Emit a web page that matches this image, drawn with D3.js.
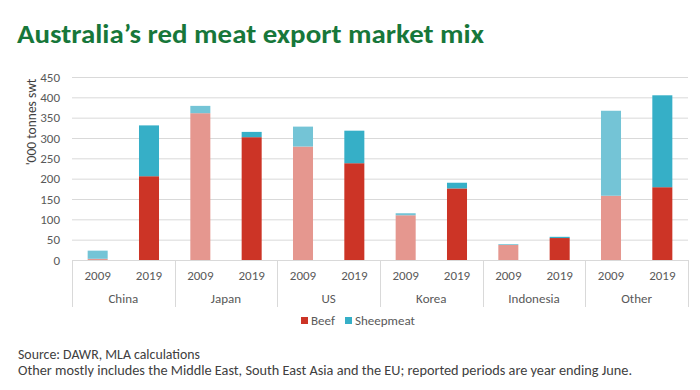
<!DOCTYPE html>
<html><head><meta charset="utf-8">
<script src="https://cdn.jsdelivr.net/npm/d3@7"></script>
<style>
body{margin:0;background:#fff;}
text{font-family:Carlito, Calibri, Lato, sans-serif;}
</style></head>
<body><svg id="c" width="700" height="390"></svg>
<script>
const categories = ["China","Japan","US","Korea","Indonesia","Other"];
const years = ["2009","2019"];
const beef2009  = [3, 361, 279, 110, 37, 158];
const sheep2009 = [20, 18, 49, 5, 2, 209];
const beef2019  = [206, 302, 238, 176, 54, 179];
const sheep2019 = [125, 13, 80, 14, 3, 226];
const yTicks = [0,50,100,150,200,250,300,350,400,450];
const seriesKeys = ["Beef","Sheepmeat"];

const colors = {
  "2009": {Beef:"#e5978f", Sheepmeat:"#74c4d6"},
  "2019": {Beef:"#cc3426", Sheepmeat:"#36afc7"}
};
const legendColors = {Beef:"#cc3426", Sheepmeat:"#36afc7"};

const rows = [];
categories.forEach((c,i)=>{
  rows.push({cat:c, year:"2009", Beef:beef2009[i], Sheepmeat:sheep2009[i]});
  rows.push({cat:c, year:"2019", Beef:beef2019[i], Sheepmeat:sheep2019[i]});
});

const svg = d3.select("#c");
const pLeft=72, pRight=688, pTop=77, pBottom=260;

const x0 = d3.scaleBand().domain(categories).range([pLeft,pRight]).paddingInner(0).paddingOuter(0);
const x1 = d3.scaleBand().domain(years).range([0,x0.bandwidth()]).paddingInner(0.61).paddingOuter(0.305);
const y = d3.scaleLinear().domain([0,450]).range([pBottom,pTop]);

// title
svg.append("text").attr("x",17).attr("y",43).attr("font-size",27).attr("font-weight","bold")
  .attr("fill","#17773a").attr("textLength",467).attr("lengthAdjust","spacingAndGlyphs")
  .text("Australia\u2019s red meat export market mix");

// grid
svg.append("g").selectAll("line").data(yTicks.filter(d=>d>0)).join("line")
  .attr("x1",pLeft).attr("x2",pRight).attr("y1",d=>y(d)+0.5).attr("y2",d=>y(d)+0.5)
  .attr("stroke","#d9d9d9").attr("stroke-width",1);

// y axis labels
const yAxis = d3.axisLeft(y).tickValues(yTicks).tickSize(0).tickPadding(0);
const ya = svg.append("g").attr("transform",`translate(60,0)`).call(yAxis);
ya.select(".domain").remove();
ya.selectAll("text").attr("font-size",13).attr("fill","#595959").attr("font-family","Carlito, Calibri, Lato, sans-serif");

svg.append("text").attr("transform","translate(36,122) rotate(-90)").attr("text-anchor","middle")
  .attr("font-size",13.5).attr("fill","#404040").text("'000 tonnes swt");

// bars
const stack = d3.stack().keys(seriesKeys);
const stacked = stack(rows);
const g = svg.append("g");
stacked.forEach(layer=>{
  g.selectAll(null).data(layer).join("rect")
    .attr("x",d=>x0(d.data.cat)+x1(d.data.year))
    .attr("width",x1.bandwidth())
    .attr("y",d=>y(d[1]))
    .attr("height",d=>y(d[0])-y(d[1]))
    .attr("fill",d=>colors[d.data.year][layer.key]);
});

// x axis
svg.append("line").attr("x1",pLeft).attr("x2",pRight).attr("y1",pBottom+0.5).attr("y2",pBottom+0.5).attr("stroke","#d9d9d9");
const bounds = categories.map(c=>x0(c)).concat([pRight]);
svg.append("g").selectAll("line").data(bounds).join("line")
  .attr("x1",d=>Math.round(d)+0.5).attr("x2",d=>Math.round(d)+0.5).attr("y1",pBottom).attr("y2",307)
  .attr("stroke","#d9d9d9");
const yl = svg.append("g");
rows.forEach(r=>{
  yl.append("text").attr("x",x0(r.cat)+x1(r.year)+x1.bandwidth()/2).attr("y",280)
    .attr("text-anchor","middle").attr("font-size",13).attr("fill","#595959").text(r.year);
});
svg.append("g").selectAll("text").data(categories).join("text")
  .attr("x",d=>x0(d)+x0.bandwidth()/2).attr("y",303).attr("text-anchor","middle")
  .attr("font-size",13).attr("fill","#595959").text(d=>d);

// legend
const leg = svg.append("g");
const legPos = [{k:"Beef",x:301},{k:"Sheepmeat",x:345}];
legPos.forEach(p=>{
  leg.append("rect").attr("x",p.x).attr("y",317).attr("width",7).attr("height",7).attr("fill",legendColors[p.k]);
  leg.append("text").attr("x",p.x+10).attr("y",325).attr("font-size",13).attr("fill","#595959").text(p.k);
});

// footnotes
svg.append("text").attr("x",18).attr("y",359).attr("font-size",13.5).attr("fill","#404040")
  .attr("textLength",182).attr("lengthAdjust","spacingAndGlyphs")
  .text("Source: DAWR, MLA calculations");
svg.append("text").attr("x",18).attr("y",375).attr("font-size",13.5).attr("fill","#404040")
  .attr("textLength",614).attr("lengthAdjust","spacingAndGlyphs")
  .text("Other mostly includes the Middle East, South East Asia and the EU; reported periods are year ending June.");
</script></body></html>
